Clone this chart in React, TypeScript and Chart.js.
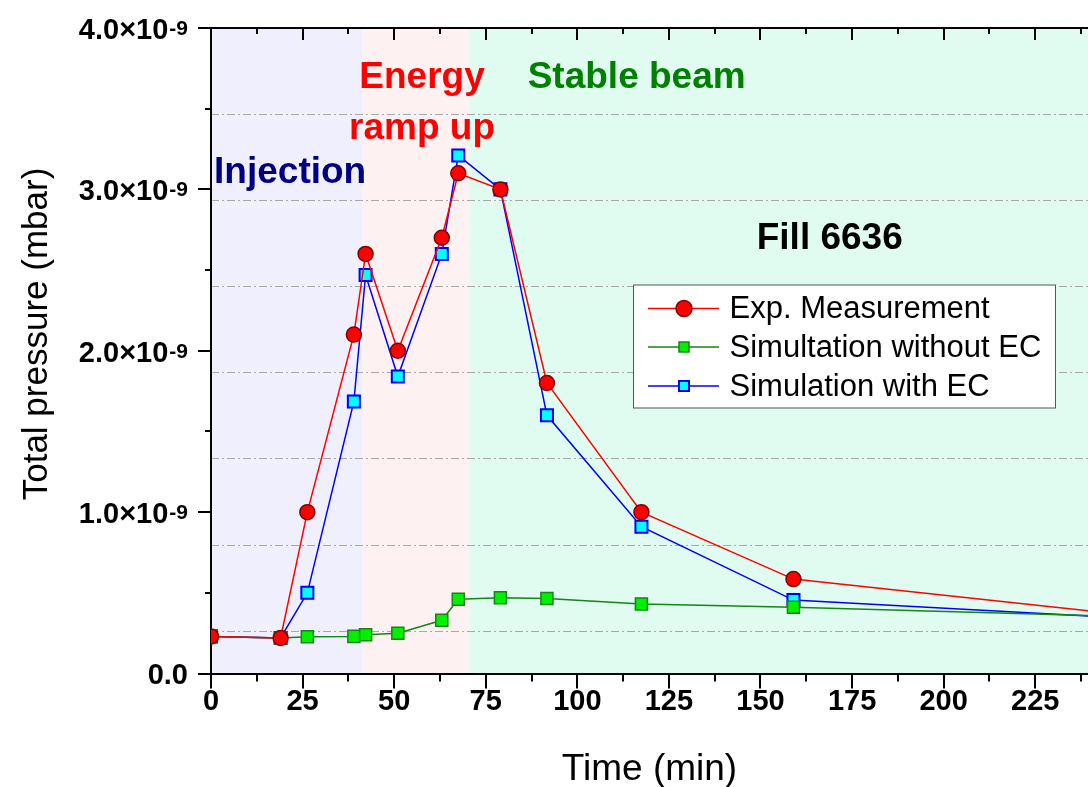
import React, { useEffect, useRef } from 'react';
import { Chart, registerables } from 'chart.js';

Chart.register(...registerables);

// ---- data (pressure in units of 1e-9 mbar, time in min) ----
const timeMin = [0, 19, 26.3, 39, 42.2, 51, 63, 67.5, 79, 91.7, 117.5, 159, 250];
const expMeasurement = [0.23, 0.22, 1.0, 2.1, 2.6, 2.0, 2.7, 3.1, 3.0, 1.8, 1.0, 0.585, 0.363];
const simWithoutEC = [0.23, 0.22, 0.228, 0.23, 0.24, 0.25, 0.33, 0.46, 0.47, 0.465, 0.43, 0.41, 0.353];
const simWithEC = [0.23, 0.22, 0.5, 1.685, 2.47, 1.84, 2.6, 3.21, 3.0, 1.6, 0.91, 0.455, 0.343];

const seriesLabels = ['Exp. Measurement', 'Simultation without EC', 'Simulation with EC'];

const xTickValues = [0, 25, 50, 75, 100, 125, 150, 175, 200, 225];
const yTickValues = [0, 1, 2, 3, 4];
const yExponent = '-9';

// phase bands (min)
const phaseBounds = [0, 41.4, 70.5, 240];
const phaseFill = ['#EFEFFD', '#FDF1F1', '#E0FBF0'];

// dash-dot reference grid levels (1e-9 mbar)
const gridLevels = [3.466, 2.933, 2.4, 1.864, 1.33, 0.795, 0.259];

// text annotations: [text, x (min), baseline y (1e-9 mbar), color]
const annotations: [string, number, number, string][] = [
  ['Injection', 21.6, 3.04, '#000080'],
  ['Energy', 57.6, 3.629, '#FF0000'],
  ['ramp up', 57.6, 3.313, '#FF0000'],
  ['Stable beam', 116.2, 3.629, '#008000'],
  ['Fill 6636', 168.9, 2.629, '#000000'],
];

const FONT = '"Liberation Sans", Arial, sans-serif';
const X_MIN = 0;
const X_MAX = 239.4;
const Y_MIN = 0;
const Y_MAX = 4;

const toPoints = (ys: number[]) => timeMin.map((t, i) => ({ x: t, y: ys[i] }));

const decorPlugin = {
  id: 'decor',
  beforeDraw(chart: any) {
    const { ctx, chartArea: a, scales } = chart;
    const x = scales.x;
    ctx.save();
    for (let i = 0; i < phaseFill.length; i++) {
      const l = Math.max(a.left, x.getPixelForValue(phaseBounds[i]));
      const r = Math.min(a.right, x.getPixelForValue(phaseBounds[i + 1]));
      ctx.fillStyle = phaseFill[i];
      ctx.fillRect(l, a.top, r - l, a.bottom - a.top);
    }
    ctx.restore();
  },
  afterDraw(chart: any) {
    const { ctx, chartArea: a, scales } = chart;
    const x = scales.x;
    const y = scales.y;
    ctx.save();
    // ticks
    ctx.strokeStyle = '#000';
    ctx.lineWidth = 2;
    ctx.beginPath();
    for (let v = X_MIN; v <= X_MAX; v += 12.5) {
      const px = Math.round(x.getPixelForValue(v));
      const major = v % 25 === 0;
      ctx.moveTo(px, a.bottom);
      ctx.lineTo(px, a.bottom + (major ? 15 : 8));
      ctx.moveTo(px, a.top);
      ctx.lineTo(px, a.top + (major ? 12 : 6));
    }
    for (let v = Y_MIN; v <= Y_MAX; v += 0.5) {
      const py = Math.round(y.getPixelForValue(v));
      const major = Number.isInteger(v);
      ctx.moveTo(a.left - (major ? 13 : 6), py);
      ctx.lineTo(a.left, py);
    }
    ctx.stroke();

    // y tick labels
    ctx.fillStyle = '#000';
    ctx.textAlign = 'right';
    ctx.textBaseline = 'alphabetic';
    const right = a.left - 23;
    for (const v of yTickValues) {
      const py = y.getPixelForValue(v);
      if (v === 0) {
        ctx.font = `bold 29px ${FONT}`;
        ctx.fillText('0.0', right, py + 10.5);
      } else {
        ctx.font = `bold 21px ${FONT}`;
        const supW = ctx.measureText(yExponent).width;
        ctx.fillText(yExponent, right, py + 7);
        ctx.font = `bold 29px ${FONT}`;
        ctx.fillText(`${v.toFixed(1)}×10`, right - supW - 1, py + 11);
      }
    }

    // y title
    ctx.save();
    ctx.translate(37, 334);
    ctx.rotate(-Math.PI / 2);
    ctx.textAlign = 'center';
    ctx.textBaseline = 'middle';
    ctx.font = `35px ${FONT}`;
    ctx.fillText('Total pressure (mbar)', 0, 0);
    ctx.restore();

    // annotations
    ctx.textAlign = 'center';
    ctx.textBaseline = 'alphabetic';
    ctx.font = `bold 37px ${FONT}`;
    for (const [text, tx, ty, color] of annotations) {
      ctx.fillStyle = color;
      ctx.fillText(text, x.getPixelForValue(tx), y.getPixelForValue(ty));
    }

    // legend
    const lx = 633.5, ly = 285, lw = 422, lh = 123;
    ctx.fillStyle = '#FFFFFF';
    ctx.fillRect(lx, ly, lw, lh);
    ctx.strokeStyle = '#555';
    ctx.lineWidth = 1;
    ctx.strokeRect(lx, ly, lw, lh);
    const rows = [308.5, 347, 386];
    chart.data.datasets.forEach((ds: any, i: number) => {
      const cy = rows[i];
      ctx.strokeStyle = ds.borderColor;
      ctx.lineWidth = 1.5;
      ctx.beginPath();
      ctx.moveTo(648, cy);
      ctx.lineTo(719, cy);
      ctx.stroke();
      ctx.fillStyle = ds.pointBackgroundColor;
      ctx.strokeStyle = ds.pointBorderColor;
      ctx.lineWidth = ds.pointBorderWidth;
      ctx.beginPath();
      if (ds.pointStyle === 'circle') {
        ctx.arc(684, cy, 8, 0, Math.PI * 2);
      } else {
        ctx.rect(679, cy - 5, 10, 10);
      }
      ctx.fill();
      ctx.stroke();
      ctx.fillStyle = '#000';
      ctx.textAlign = 'left';
      ctx.textBaseline = 'middle';
      ctx.font = `31px ${FONT}`;
      ctx.fillText(ds.label, 729.5, cy + 1);
    });
    ctx.restore();
  },
};

export default function App() {
  const ref = useRef<HTMLCanvasElement | null>(null);

  useEffect(() => {
    document.body.style.margin = '0';
    document.body.style.overflow = 'hidden';
    const canvas = ref.current;
    if (!canvas) return;
    const chart = new Chart(canvas, {
      type: 'line',
      data: {
        datasets: [
          {
            label: seriesLabels[0],
            data: toPoints(expMeasurement),
            borderColor: '#FF0000',
            borderWidth: 1.5,
            pointStyle: 'circle',
            pointRadius: 7.5,
            pointBackgroundColor: '#FF0000',
            pointBorderColor: '#800000',
            pointBorderWidth: 1.5,
            tension: 0,
            clip: { left: 0, right: 0, top: 10, bottom: 10 },
          },
          {
            label: seriesLabels[1],
            data: toPoints(simWithoutEC),
            borderColor: '#158515',
            borderWidth: 1.5,
            pointStyle: 'rect',
            pointRadius: 8.5,
            pointBackgroundColor: '#00F000',
            pointBorderColor: '#158515',
            pointBorderWidth: 1.5,
            tension: 0,
            clip: { left: 0, right: 0, top: 10, bottom: 10 },
          },
          {
            label: seriesLabels[2],
            data: toPoints(simWithEC),
            borderColor: '#0000FF',
            borderWidth: 1.5,
            pointStyle: 'rect',
            pointRadius: 8.5,
            pointBackgroundColor: '#00FFFF',
            pointBorderColor: '#0000FF',
            pointBorderWidth: 2,
            tension: 0,
            clip: { left: 0, right: 0, top: 10, bottom: 10 },
          },
        ] as any,
      },
      options: {
        animation: false,
        responsive: false,
        events: [],
        layout: { autoPadding: false, padding: { top: 28, left: 0, right: 0, bottom: 0 } },
        plugins: { legend: { display: false }, tooltip: { enabled: false } },
        scales: {
          x: {
            type: 'linear',
            position: 'bottom',
            min: X_MIN,
            max: X_MAX,
            ticks: {
              stepSize: 12.5,
              includeBounds: false,
              autoSkip: false,
              maxRotation: 0,
              padding: 2,
              color: '#000',
              font: { family: FONT, size: 29, weight: 'bold' },
              callback: (v: any) => (xTickValues.includes(Number(v)) ? String(v) : ''),
            },
            grid: { drawOnChartArea: false, tickLength: 9, tickColor: 'transparent' },
            border: { display: true, color: '#000', width: 2 },
            title: {
              display: true,
              text: 'Time (min)',
              color: '#000',
              font: { family: FONT, size: 37, weight: 'normal' },
              padding: { top: 0, bottom: -5 },
            },
            afterFit: (s: any) => {
              s.height = 113.5;
            },
          },
          xTop: {
            type: 'linear',
            position: 'top',
            min: X_MIN,
            max: X_MAX,
            ticks: { display: false },
            grid: { drawOnChartArea: false, drawTicks: false },
            border: { display: true, color: '#000', width: 2 },
            afterFit: (s: any) => {
              s.height = 0;
            },
          },
          y: {
            type: 'linear',
            position: 'left',
            min: Y_MIN,
            max: Y_MAX,
            ticks: { display: false, stepSize: 0.5 },
            grid: { drawOnChartArea: false, drawTicks: false },
            border: { display: true, color: '#000', width: 2 },
            afterFit: (s: any) => {
              s.width = 211;
            },
          },
          yGrid: {
            type: 'linear',
            position: 'right',
            min: Y_MIN,
            max: Y_MAX,
            ticks: { display: false },
            grid: { drawTicks: false, color: '#A8A8A8', lineWidth: 1 },
            border: { display: false, dash: [8, 3, 2, 3] },
            afterBuildTicks: (s: any) => {
              s.ticks = gridLevels.map((v) => ({ value: v }));
            },
            afterFit: (s: any) => {
              s.width = 0;
            },
          },
        } as any,
      },
      plugins: [decorPlugin],
    });
    return () => chart.destroy();
  }, []);

  return (
    <div style={{ width: 1088, height: 787, position: 'relative' }}>
      <canvas ref={ref} width={1088} height={787} style={{ display: 'block', width: 1088, height: 787 }} />
    </div>
  );
}
